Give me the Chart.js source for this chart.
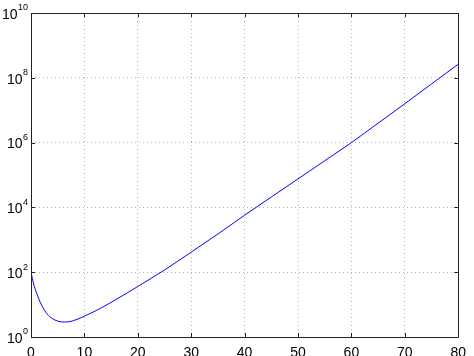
<!DOCTYPE html>
<html>
<head>
<meta charset="utf-8">
<script src="https://cdn.jsdelivr.net/npm/chart.js@4"></script>
<style>
  html, body { margin: 0; padding: 0; background: #fff; }
  #wrap { width: 474px; height: 356px; }
</style>
</head>
<body>
<div id="wrap"><canvas id="myChart"></canvas></div>
<script>
/** data */
const xValues = [0, 0.5, 1, 2, 3, 4, 5, 6, 7, 8, 10, 12, 15, 18, 20, 25, 30, 35, 40, 45, 50, 55, 60, 65, 70, 75, 80];
const yValues = [100, 43, 24, 9.5, 5.2, 3.7, 3.1, 2.9, 2.95, 3.2, 4.4, 6.3, 11.7, 22.9, 36.3, 117, 417, 1510, 5750, 20900, 75900, 2.75e5, 1e6, 3.98e6, 1.58e7, 6.46e7, 2.63e8];
const xTicks = [0, 10, 20, 30, 40, 50, 60, 70, 80];
const yTicks = [1, 1e2, 1e4, 1e6, 1e8, 1e10];
const yExponents = ['0', '2', '4', '6', '8', '10'];

const FONT = '"Liberation Sans", Arial, Helvetica, sans-serif';

// box, inward tick marks and 10^n labels like matlab
const matlabAxes = {
  id: 'matlabAxes',
  afterDraw(chart) {
    const c = chart.ctx;
    const a = chart.chartArea;
    const xs = chart.scales.x;
    const ys = chart.scales.y;
    c.save();
    c.strokeStyle = '#222';
    c.lineWidth = 1;
    c.beginPath();
    c.rect(Math.round(a.left) + 0.5, Math.round(a.top) + 0.5,
      Math.round(a.right - a.left), Math.round(a.bottom - a.top));
    c.stroke();

    const tl = 4;
    c.beginPath();
    xTicks.forEach((v) => {
      const px = Math.round(xs.getPixelForValue(v)) + 0.5;
      c.moveTo(px, a.bottom); c.lineTo(px, a.bottom - tl);
      c.moveTo(px, a.top); c.lineTo(px, a.top + tl);
    });
    yTicks.forEach((v) => {
      const py = Math.round(ys.getPixelForValue(v)) + 0.5;
      c.moveTo(a.left, py); c.lineTo(a.left + tl, py);
      c.moveTo(a.right, py); c.lineTo(a.right - tl, py);
    });
    c.stroke();

    // y labels: "10" with raised exponent
    c.fillStyle = '#000';
    c.textBaseline = 'middle';
    yTicks.forEach((v, i) => {
      const py = ys.getPixelForValue(v);
      const right = a.left - 3;
      c.font = '9px ' + FONT;
      const ew = c.measureText(yExponents[i]).width;
      c.textAlign = 'right';
      c.fillText(yExponents[i], right, py - 5);
      c.font = '14px ' + FONT;
      c.fillText('10', right - ew - 0.5, py + 2);
    });
    c.restore();
  },
};

const points = xValues.map((x, i) => ({ x: x, y: yValues[i] }));

const myChart = new Chart(document.getElementById('myChart'), {
  type: 'line',
  data: {
    datasets: [
      {
        data: points,
        borderColor: '#0000ff',
        borderWidth: 1,
        pointRadius: 0,
        fill: false,
        cubicInterpolationMode: 'monotone',
      },
    ],
  },
  options: {
    responsive: true,
    maintainAspectRatio: false,
    animation: false,
    layout: {
      padding: { left: 0, right: 11, top: 13, bottom: 0 },
    },
    plugins: {
      legend: { display: false },
      tooltip: { enabled: false },
    },
    scales: {
      x: {
        type: 'linear',
        min: 0,
        max: 80,
        afterBuildTicks: (scale) => {
          scale.ticks = xTicks.map((v) => ({ value: v }));
        },
        afterFit: (scale) => {
          scale.height = 19;
        },
        grid: {
          color: 'rgba(0,0,0,0.3)',
          drawTicks: false,
        },
        border: { display: false, dash: [1, 3] },
        ticks: {
          color: '#000',
          padding: 8,
          maxRotation: 0,
          font: { family: FONT, size: 14 },
        },
      },
      y: {
        type: 'logarithmic',
        min: 1,
        max: 1e10,
        afterBuildTicks: (scale) => {
          scale.ticks = yTicks.map((v) => ({ value: v }));
        },
        afterFit: (scale) => {
          scale.width = 31;
        },
        grid: {
          color: 'rgba(0,0,0,0.3)',
          drawTicks: false,
        },
        border: { display: false, dash: [1, 3] },
        ticks: { display: false },
      },
    },
  },
  plugins: [matlabAxes],
});
</script>
</body>
</html>
